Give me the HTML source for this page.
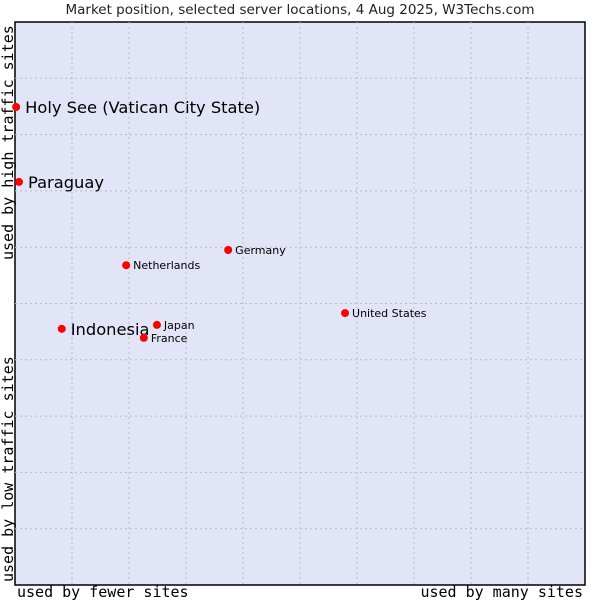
<!DOCTYPE html>
<html><head><meta charset="utf-8"><style>
body{margin:0;background:#fff;}
svg{display:block;}
</style></head><body>
<svg id="chart" width="600" height="600" xmlns="http://www.w3.org/2000/svg">
<text x="300" y="14" text-anchor="middle" font-family="DejaVu Sans, sans-serif" font-size="13.5" fill="#222">Market position, selected server locations, 4 Aug 2025, W3Techs.com</text>
<rect x="15" y="22" width="570" height="563" fill="#e2e4f8" stroke="#000" stroke-width="1.5"/>
<g id="grid"></g>
<text x="17" y="597" font-family="DejaVu Sans Mono, monospace" font-size="15" fill="#000">used by fewer sites</text>
<text x="583" y="597" text-anchor="end" font-family="DejaVu Sans Mono, monospace" font-size="15" fill="#000">used by many sites</text>
<text transform="translate(13,260) rotate(-90)" font-family="DejaVu Sans Mono, monospace" font-size="15" fill="#000">used by high traffic sites</text>
<text transform="translate(13,582) rotate(-90)" font-family="DejaVu Sans Mono, monospace" font-size="15" fill="#000">used by low traffic sites</text>
<g id="points"></g>
</svg>
<script>
const names=["Holy See (Vatican City State)","Paraguay","Indonesia","Netherlands","Germany","Japan","France","United States"];
const xVals=[0.02,0.07,0.82,1.95,3.74,2.49,2.26,5.79];
const yVals=[8.49,7.16,4.55,5.68,5.95,4.62,4.39,4.83];
const highlighted=[true,true,true,false,false,false,false,false];
const X0=15,X1=585,Y0=585,Y1=22;
const sx=v=>X0+v/10*(X1-X0);
const sy=v=>Y0-v/10*(Y0-Y1);
const ns="http://www.w3.org/2000/svg";
const grid=document.getElementById('grid');
for(let i=1;i<10;i++){
  const v=document.createElementNS(ns,'line');
  v.setAttribute('x1',sx(i));v.setAttribute('x2',sx(i));v.setAttribute('y1',Y1);v.setAttribute('y2',Y0);
  v.setAttribute('stroke','#bbb');v.setAttribute('stroke-dasharray','2,3');
  
  
  grid.appendChild(v);
  const h=document.createElementNS(ns,'line');
  h.setAttribute('y1',sy(i));h.setAttribute('y2',sy(i));h.setAttribute('x1',X0);h.setAttribute('x2',X1);
  h.setAttribute('stroke','#bbb');h.setAttribute('stroke-dasharray','2,3');
  
  
  grid.appendChild(h);
}
const pts=document.getElementById('points');
names.forEach((n,i)=>{
  const cx=sx(xVals[i]),cy=sy(yVals[i]);
  const c=document.createElementNS(ns,'circle');
  c.setAttribute('cx',cx);c.setAttribute('cy',cy);c.setAttribute('r',4);c.setAttribute('fill','#f00');
  
  
  pts.appendChild(c);
  const t=document.createElementNS(ns,'text');
  const big=highlighted[i];
  t.setAttribute('x',cx+(big?9:7));t.setAttribute('y',cy+(big?6:4));
  t.setAttribute('font-family','DejaVu Sans, sans-serif');
  t.setAttribute('font-size',big?16.3:11);
  t.setAttribute('fill','#000');
  t.textContent=n;
  
  
  pts.appendChild(t);
});
</script>
</body></html>
